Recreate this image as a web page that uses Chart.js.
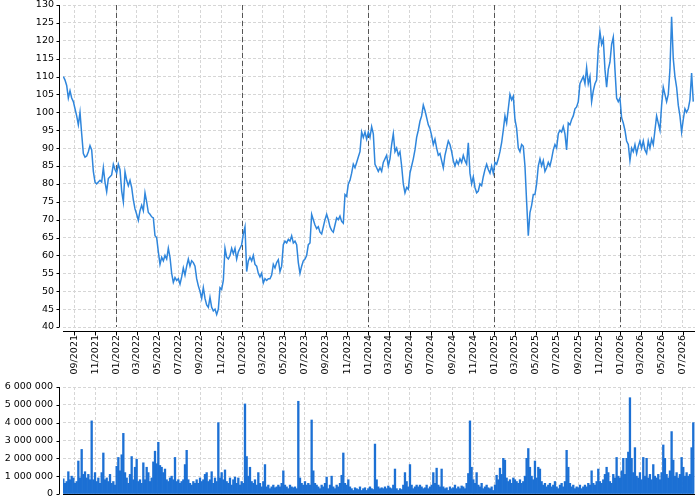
<!DOCTYPE html>
<html>
<head>
<meta charset="utf-8">
<script src="https://cdn.jsdelivr.net/npm/chart.js@4/dist/chart.umd.min.js"></script>
<style>
html,body{margin:0;padding:0;background:#fff;}
#wrap{position:relative;width:700px;height:500px;}
#priceBox{position:absolute;left:0;top:0;width:700px;height:380px;}
#volBox{position:absolute;left:0;top:380px;width:700px;height:120px;}
</style>
</head>
<body>
<div id="wrap">
  <div id="priceBox"><canvas id="price" width="700" height="380"></canvas></div>
  <div id="volBox"><canvas id="vol" width="700" height="120"></canvas></div>
</div>
<script>
// ---- Data (evenly spaced samples between firstDate and lastDate) ----
const firstDate = '2021-08-01';
const lastDate = '2026-07-31';
const axisStart = '2021-07-31';
const axisEnd = '2026-08-05';

const prices = [
  110,109,107.5,104,106,104,103,101,99,96.5,
  100,94,88.5,87.5,87.8,89,90.7,89.5,83.5,80.5,
  80,80.5,81,80.5,84.5,80.5,77.8,81.5,82,82.5,
  85.5,84,83,85.5,84,78,75,83.4,81,79.5,
  81,79,75.5,73,71.5,69.8,72.5,74,72.5,77.5,
  75,72,71.5,70.8,70.5,65.5,65,61,57.5,59.5,
  58.5,60,59,62,59.5,55,52.5,53.8,53,53.5,
  52,54,56.5,54.5,57,59,57,58.5,58,57,
  53.5,51.5,50,48,51,48,46.2,45.5,48.3,45.5,
  44.5,45,43.5,45,51,50.5,53,62,59.5,59,
  60,62,60.5,62,59,61,62,63,66,68,
  55.5,58.5,59.5,58.5,60,57.5,57,55,54,55,
  52.3,53.5,53,53.5,53.5,54.5,57.5,56.5,58,58.8,
  55.5,57,63,64,63.5,64.5,64,65.5,63.5,64,
  63,58,55,57,58.5,59,60,63,63.5,71.5,
  70,68.5,67.5,68,66.5,66,68,70,71.5,70,
  68,67,66.5,68.5,70.5,70,71,69.5,69,77,
  76.5,80,81,83,85.5,84.5,86,87.5,89,94.5,
  93,94.5,92.5,94.5,93,96,94,85.5,84.5,83.5,
  84.5,83.5,86,87,88,85,87,91,94,89,
  90,88,89,85,80,77.5,79,78.5,83,85,
  87,89.5,93,95,97.5,99,102,100.5,98.5,96.5,
  95.5,93.5,91,92.5,90,88,88.5,86.5,84.5,88,
  90,92,91,89,86.5,85,86.5,85.5,87,86,
  88,86.5,85.5,91.5,83,80,82,79,77.5,78,
  80,79.5,82,84,85.5,84,83,85,83,86,
  85.5,87,89,91.5,95,99,97,101,105,103.5,
  104.5,98,95.5,90,89,91,90.5,85,75,65.5,
  72,74,77,77,80,85,87,85,86.5,83.5,
  84.5,86,85,87,89.5,91,90,94,95,94.5,
  96,94,89.5,97,96.5,98,99,101,101.5,103,
  108,109,110,108,112.5,108,110,103,106,108,
  109,118,122.5,119,120.5,112,107,112,114,119,
  121,112,104,103,104,98.5,97,95,92,91,
  86.5,90,89,91,88.5,90.5,92,90,92,89.5,
  88.5,92,90,92.5,91,95,99,97,95,102,
  107,105,103,105,112,126.7,115,110,107,102,
  99,94.5,98,101,100,101,103.5,111,103
];

const volumes = [
  850000,600000,700000,1250000,800000,1000000,900000,600000,700000,1850000,
  900000,2500000,1100000,1250000,900000,1100000,800000,4100000,800000,1200000,
  700000,900000,600000,1200000,2300000,800000,900000,700000,1100000,600000,
  700000,500000,1550000,2050000,1300000,2200000,3400000,1200000,900000,600000,
  1100000,2100000,800000,1500000,1950000,700000,800000,600000,1750000,800000,
  1500000,1200000,700000,900000,1800000,2400000,1700000,2900000,1600000,1500000,
  1200000,1400000,800000,700000,900000,1000000,800000,2050000,700000,800000,
  600000,700000,800000,1650000,2450000,800000,600000,500000,700000,600000,
  800000,600000,900000,700000,800000,1100000,1200000,700000,800000,1250000,
  600000,900000,700000,4000000,900000,1200000,800000,1350000,700000,600000,
  900000,500000,800000,950000,600000,900000,500000,700000,600000,5050000,
  2100000,1000000,1500000,700000,600000,800000,500000,1200000,600000,400000,
  700000,1650000,400000,500000,300000,400000,500000,350000,400000,500000,
  400000,600000,1300000,500000,400000,300000,500000,400000,350000,400000,
  300000,5200000,900000,600000,500000,700000,500000,600000,500000,4150000,
  1300000,600000,500000,400000,300000,500000,400000,600000,950000,300000,
  500000,1000000,400000,300000,500000,400000,600000,1050000,2300000,600000,
  500000,800000,400000,300000,200000,350000,300000,250000,400000,200000,
  300000,350000,200000,300000,400000,300000,250000,2800000,800000,400000,
  300000,350000,300000,400000,300000,450000,350000,300000,500000,1400000,
  300000,200000,300000,250000,500000,1200000,700000,400000,1650000,500000,
  300000,400000,500000,400000,500000,400000,300000,350000,500000,300000,
  400000,500000,1200000,600000,1450000,500000,400000,1400000,400000,300000,
  350000,200000,400000,300000,350000,500000,300000,400000,300000,450000,
  400000,300000,600000,1150000,4100000,1500000,800000,600000,1200000,500000,
  400000,600000,300000,400000,500000,350000,300000,400000,200000,500000,
  1050000,800000,1450000,1100000,2000000,1900000,900000,700000,800000,600000,
  900000,800000,700000,600000,800000,600000,700000,1000000,2000000,2550000,
  1500000,1000000,800000,1850000,900000,1500000,1400000,700000,500000,600000,
  400000,500000,600000,400000,500000,700000,400000,300000,500000,600000,
  400000,700000,2450000,1500000,600000,400000,500000,300000,400000,350000,
  500000,300000,400000,500000,400000,600000,500000,1300000,600000,500000,
  700000,1400000,700000,600000,800000,1100000,1500000,1200000,700000,600000,
  1100000,900000,2050000,1000000,900000,1300000,2000000,1100000,2000000,2350000,
  5400000,2000000,1200000,2600000,1000000,900000,1200000,800000,2050000,1000000,
  2000000,900000,1100000,800000,1650000,1000000,900000,1100000,800000,1200000,
  2750000,2000000,1100000,900000,1300000,3500000,1900000,1000000,1200000,900000,
  1100000,2050000,1500000,1000000,1200000,1000000,1100000,2600000,4000000
];

const priceMin = 40, priceMax = 130, priceStep = 5;
const volMin = 0, volMax = 6000000, volStep = 1000000;
const tickMonthStep = 2;            // a tick every two months
const firstTick = [2021, 8];        // 09/2021 (month index 8)
const lastTick = [2026, 6];         // 07/2026

// ---- helpers ----
function utc(s){ const [y,m,d] = s.split('-').map(Number); return Date.UTC(y, m-1, d); }
const t0 = utc(firstDate), t1 = utc(lastDate);
function seriesPoints(vals){
  const n = vals.length;
  return vals.map((v,i) => ({x: t0 + (t1 - t0) * i / (n - 1), y: v}));
}
function monthTicks(){
  const out = [];
  let y = firstTick[0], m = firstTick[1];
  while (y < lastTick[0] || (y === lastTick[0] && m <= lastTick[1])) {
    out.push({value: Date.UTC(y, m, 1)});
    m += tickMonthStep; if (m > 11) { m -= 12; y += 1; }
  }
  return out;
}
function fmtMonth(v){
  const d = new Date(v);
  const mm = String(d.getUTCMonth()+1).padStart(2,'0');
  return mm + '/' + d.getUTCFullYear();
}
function fmtSpace(v){ return String(v).replace(/\B(?=(\d{3})+(?!\d))/g, ' '); }

const FONT = {family: '"DejaVu Sans", sans-serif', size: 9.5};
const GRID = '#d6d6d6';

// custom axes drawn outward from the plot area (offset spines)
const offsetAxes = {
  id: 'offsetAxes',
  beforeDatasetsDraw(chart, args, o) {
    if (!o.yearLines) return;
    const {ctx, chartArea: a, scales: {x}} = chart;
    ctx.save();
    ctx.strokeStyle = '#555';
    ctx.lineWidth = 1;
    ctx.setLineDash([5, 3]);
    x.ticks.forEach(t => {
      if (new Date(t.value).getUTCMonth() === 0) {
        const px = Math.round(x.getPixelForValue(t.value)) + 0.5;
        ctx.beginPath(); ctx.moveTo(px, a.top); ctx.lineTo(px, a.bottom); ctx.stroke();
      }
    });
    ctx.restore();
  },
  afterDraw(chart, args, o) {
    const {ctx, chartArea: a, scales: {x, y}} = chart;
    ctx.save();
    ctx.strokeStyle = '#000';
    ctx.lineWidth = 1;
    ctx.setLineDash([]);
    const ax = a.left - 3.5;
    ctx.beginPath(); ctx.moveTo(ax, y.getPixelForValue(y.max)); ctx.lineTo(ax, y.getPixelForValue(y.min)); ctx.stroke();
    y.ticks.forEach(t => {
      const py = Math.round(y.getPixelForValue(t.value)) + 0.5;
      ctx.beginPath(); ctx.moveTo(ax - 3, py); ctx.lineTo(ax, py); ctx.stroke();
    });
    const ay = a.bottom + o.xGap + 0.5;
    ctx.beginPath(); ctx.moveTo(a.left, ay); ctx.lineTo(a.right, ay); ctx.stroke();
    if (o.xTicks) {
      x.ticks.forEach(t => {
        const px = Math.round(x.getPixelForValue(t.value)) + 0.5;
        ctx.beginPath(); ctx.moveTo(px, ay); ctx.lineTo(px, ay + 4); ctx.stroke();
      });
    }
    ctx.restore();
  }
};

function xScale(showLabels, height){
  return {
    type: 'linear',
    offset: false,
    min: utc(axisStart), max: utc(axisEnd),
    afterBuildTicks: s => { s.ticks = monthTicks(); },
    afterFit: s => { s.height = height; s.paddingLeft = 0; s.paddingRight = 0; },
    grid: {color: GRID, lineWidth: 1, drawTicks: false, offset: false},
    border: {display: false, dash: [3, 2]},
    ticks: {
      display: showLabels, autoSkip: false, maxRotation: 90, minRotation: 90,
      padding: 8, color: '#000', font: FONT, callback: v => fmtMonth(v)
    }
  };
}

new Chart(document.getElementById('price'), {
  type: 'line',
  data: {
    datasets: [{
      data: seriesPoints(prices),
      borderColor: '#2f86dc', borderWidth: 1.5,
      pointRadius: 0, tension: 0, fill: false
    }]
  },
  options: {
    responsive: false, animation: false,
    layout: {padding: {left: 0, right: 5, top: 5, bottom: 0}},
    plugins: {legend: {display: false}, tooltip: {enabled: false},
      offsetAxes: {xGap: 4, xTicks: true, yearLines: true}},
    scales: {
      x: xScale(true, 53),
      y: {
        min: priceMin, max: priceMax,
        afterFit: s => { s.width = 63; s.paddingTop = 0; s.paddingBottom = 0; },
        grid: {color: GRID, lineWidth: 1, drawTicks: false},
        border: {display: false, dash: [3, 2]},
        ticks: {stepSize: priceStep, padding: 9, color: '#000', font: FONT}
      }
    }
  },
  plugins: [offsetAxes]
});

new Chart(document.getElementById('vol'), {
  type: 'bar',
  data: {
    datasets: [{
      data: seriesPoints(volumes),
      backgroundColor: '#1c70d4', borderWidth: 0,
      barPercentage: 1, categoryPercentage: 1
    }]
  },
  options: {
    responsive: false, animation: false,
    layout: {padding: {left: 0, right: 5, top: 7, bottom: 0}},
    plugins: {legend: {display: false}, tooltip: {enabled: false},
      offsetAxes: {xGap: 0, xTicks: false, yearLines: false}},
    scales: {
      x: xScale(false, 6),
      y: {
        min: volMin, max: volMax,
        afterFit: s => { s.width = 63; s.paddingTop = 0; s.paddingBottom = 0; },
        grid: {color: GRID, lineWidth: 1, drawTicks: false},
        border: {display: false, dash: [3, 2]},
        ticks: {stepSize: volStep, padding: 10, color: '#000', font: FONT, callback: v => fmtSpace(v)}
      }
    }
  },
  plugins: [offsetAxes]
});
</script>
</body>
</html>
